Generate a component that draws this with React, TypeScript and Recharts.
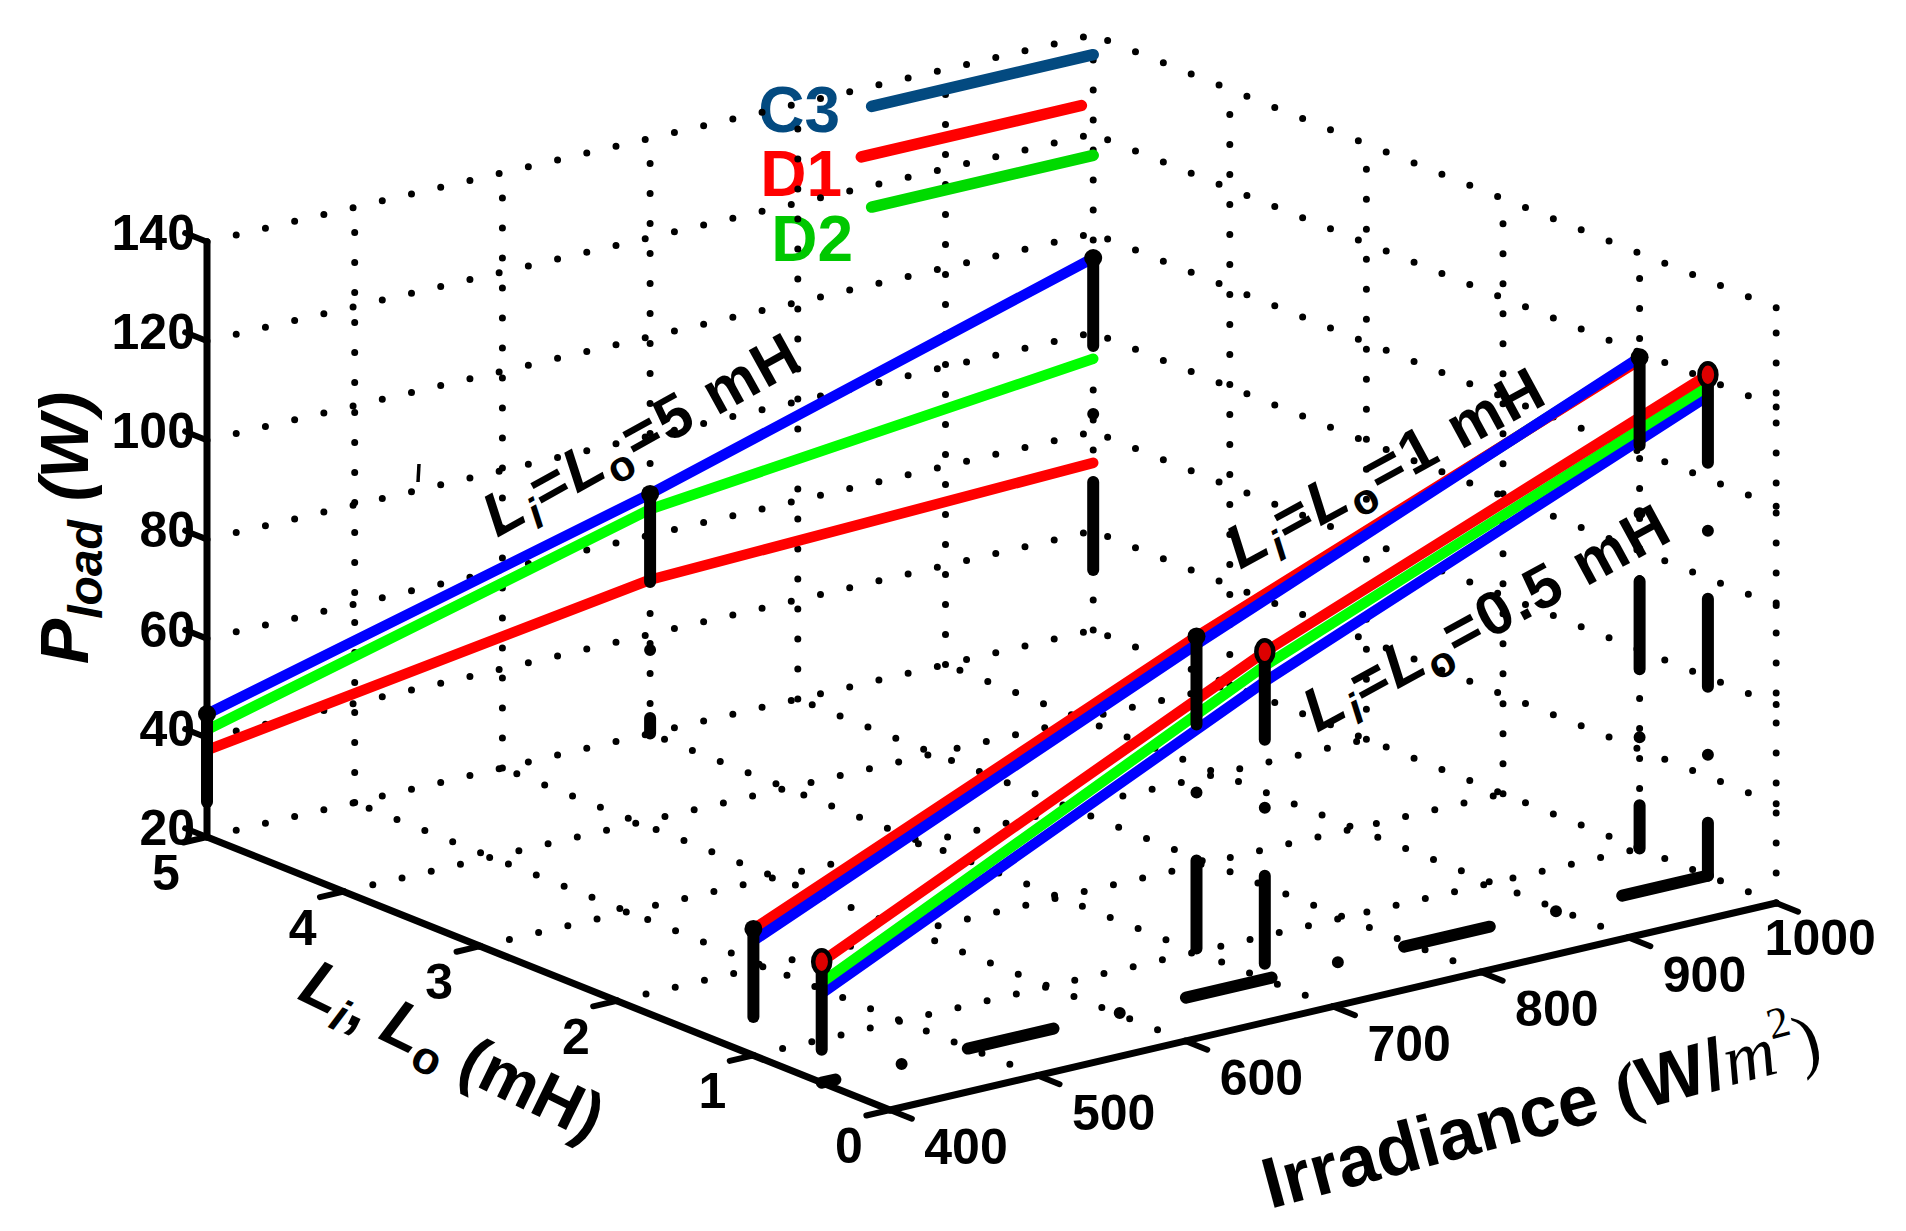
import React from "react";
import { ComposedChart, Line, Scatter, XAxis, YAxis, Customized } from "recharts";

const CHART_W = 1906;
const CHART_H = 1231;

// ---------------- data ----------------
const irradianceTicks = [400, 500, 600, 700, 800, 900, 1000];
const inductanceTicks = [0, 1, 2, 3, 4, 5];
const powerTicks = [20, 40, 60, 80, 100, 120, 140];

const irradiance = [400, 700, 1000];

// L = 5 mH
const c3At5mH = [44.8, 68.3, 95.0];
const d1At5mH = [37.5, 51.0, 53.7];
const d2At5mH = [41.6, 65.2, 74.7];
// L = 1 mH
const c3At1mH = [43.1, 82.0, 119.0];
const d1At1mH = [45.5, 83.6, 118.4];
const d2At1mH = [44.0, 82.8, 118.7];
// L = 0.5 mH
const c3At05mH = [38.0, 80.0, 116.7];
const d1At05mH = [44.4, 86.0, 121.0];
const d2At05mH = [40.2, 83.2, 118.7];

// legend sample lines (drawn in the L = 5 mH wall)
const legendC3Irr = [850, 1000];
const legendD1Irr = [843, 992];
const legendD2Irr = [850, 1000];
const legendC3P = [136, 136];
const legendD1P = [126.3, 126.3];
const legendD2P = [115.7, 115.7];

// ---------------- projection (orthographic 3-D view) ----------------
const ORIGIN_X = 890;
const ORIGIN_Y = 1110;
const IRR_DX = 1.477;
const IRR_DY = -0.345;
const L_DX = -136.6;
const L_DY = -54.6;
const P_DY = -4.96;

type P3 = [number, number, number];
const proj = ([irr, l, p]: P3) => ({
  sx: ORIGIN_X + IRR_DX * (irr - 400) + L_DX * l,
  sy: ORIGIN_Y + IRR_DY * (irr - 400) + L_DY * l + P_DY * (p - 20),
});

const FONT = "'Liberation Sans', Arial, Helvetica, sans-serif";
const SERIF = "'Liberation Serif', 'Times New Roman', serif";

const BLUE = "#0000FF";
const RED = "#FF0000";
const GREEN = "#00FF00";
const LEG_BLUE = "#034A80";
const LEG_GREEN_TEXT = "#00C800";
const LEG_GREEN_LINE = "#00DA00";

const DATA_W = 10.5;

function path(
  key: string,
  pts: P3[],
  stroke: string,
  width: number,
  dash?: string
) {
  return (
    <Line
      key={key}
      data={pts.map(proj)}
      dataKey="sy"
      type="linear"
      stroke={stroke}
      strokeWidth={width}
      strokeDasharray={dash}
      strokeLinecap="round"
      strokeLinejoin="round"
      dot={false}
      activeDot={false}
      legendType="none"
      isAnimationActive={false}
    />
  );
}

// ---------- grid ----------
const GRID_DASH = "0 30";
const GRID_W = 7;
const gridLines: React.ReactNode[] = [];
// wall L = 5
powerTicks
  .filter((p) => p > 20)
  .forEach((p) =>
    gridLines.push(path(`gw5p${p}`, [[400, 5, p], [1000, 5, p]], "#000", GRID_W, GRID_DASH))
  );
irradianceTicks
  .filter((x) => x > 400)
  .forEach((x) =>
    gridLines.push(path(`gw5i${x}`, [[x, 5, 20], [x, 5, 140]], "#000", GRID_W, GRID_DASH))
  );
// wall irradiance = 1000
powerTicks
  .filter((p) => p > 20)
  .forEach((p) =>
    gridLines.push(path(`gwip${p}`, [[1000, 0, p], [1000, 5, p]], "#000", GRID_W, GRID_DASH))
  );
inductanceTicks
  .filter((l) => l < 5)
  .forEach((l) =>
    gridLines.push(path(`gwil${l}`, [[1000, l, 20], [1000, l, 140]], "#000", GRID_W, GRID_DASH))
  );
// floor
irradianceTicks
  .filter((x) => x > 400)
  .forEach((x) =>
    gridLines.push(path(`gfi${x}`, [[x, 0, 20], [x, 5, 20]], "#000", GRID_W, GRID_DASH))
  );
inductanceTicks
  .filter((l) => l > 0)
  .forEach((l) =>
    gridLines.push(path(`gfl${l}`, [[400, l, 20], [1000, l, 20]], "#000", GRID_W, GRID_DASH))
  );

// ---------- axes ----------
const axisLines = [
  path("axP", [[400, 5, 20], [400, 5, 140]], "#000", 7),
  path("axL", [[400, 0, 20], [400, 5, 20]], "#000", 7),
  path("axI", [[400, 0, 20], [1000, 0, 20]], "#000", 7),
  ...powerTicks.map((p) => path(`tkP${p}`, [[400, 5, p], [400, 5.16, p]], "#000", 6)),
  ...inductanceTicks.map((l) => path(`tkL${l}`, [[400, l, 20], [384, l, 20]], "#000", 6)),
  ...irradianceTicks.map((x) => path(`tkI${x}`, [[x, 0, 20], [x, -0.16, 20]], "#000", 6)),
];

// ---------- series ----------
const seriesPts = (l: number, vals: number[]): P3[] =>
  irradiance.map((x, i) => [x, l, vals[i]] as P3);

const dataLines = [
  path("d2L5", seriesPts(5, d2At5mH), GREEN, DATA_W),
  path("d1L5", seriesPts(5, d1At5mH), RED, DATA_W),
  path("c3L5", seriesPts(5, c3At5mH), BLUE, DATA_W),
  path("d2L1", seriesPts(1, d2At1mH), GREEN, DATA_W),
  path("d1L1", seriesPts(1, d1At1mH), RED, DATA_W),
  path("c3L1", seriesPts(1, c3At1mH), BLUE, DATA_W),
  path("c3L05", seriesPts(0.5, c3At05mH), BLUE, DATA_W),
  path("d2L05", seriesPts(0.5, d2At05mH), GREEN, DATA_W),
  path("d1L05", seriesPts(0.5, d1At05mH), RED, DATA_W),
];

const legendLines = [
  path("lgC3", legendC3Irr.map((x, i) => [x, 5, legendC3P[i]] as P3), LEG_BLUE, 11.5),
  path("lgD1", legendD1Irr.map((x, i) => [x, 5, legendD1P[i]] as P3), RED, 11.5),
  path("lgD2", legendD2Irr.map((x, i) => [x, 5, legendD2P[i]] as P3), LEG_GREEN_LINE, 11.5),
];

// ---------- stems ----------
const STEM_DASH = "88 68 0 68";
const STEM_W = 12;
const groups: { l: number; c3: number[]; d1: number[]; d2: number[] }[] = [
  { l: 5, c3: c3At5mH, d1: d1At5mH, d2: d2At5mH },
  { l: 1, c3: c3At1mH, d1: d1At1mH, d2: d2At1mH },
  { l: 0.5, c3: c3At05mH, d1: d1At05mH, d2: d2At05mH },
];
const stemTops = groups.map((g) =>
  irradiance.map((x, i) => [x, g.l, Math.max(g.c3[i], g.d1[i], g.d2[i])] as P3)
);
const stems: React.ReactNode[] = [];
stemTops.forEach((tops, gi) =>
  tops.forEach((t, i) =>
    stems.push(path(`stem${gi}_${i}`, [t, [t[0], t[1], 20]], "#000", STEM_W, STEM_DASH))
  )
);
const floorLine = path("floor05", [[1000, 0.5, 20], [400, 0.5, 20]], "#000", STEM_W, STEM_DASH);

// ---------- markers ----------
const BlackDot = (props: any) => (
  <circle cx={props.cx} cy={props.cy} r={9} fill="#000" />
);
const RedMarker = (props: any) => (
  <ellipse
    cx={props.cx}
    cy={props.cy}
    rx={8.5}
    ry={11.5}
    fill="#DD0000"
    stroke="#000"
    strokeWidth={4.5}
  />
);

// ---------- tick labels ----------
const TICK_FS = 50;
const PTickLabel = (props: any) => (
  <text
    x={props.cx - 12}
    y={props.cy + 8}
    textAnchor="end"
    fontFamily={FONT}
    fontWeight="bold"
    fontSize={TICK_FS}
    fill="#000"
  >
    {props.payload.label}
  </text>
);
const LTickLabel = (props: any) => (
  <text
    x={props.cx - 41}
    y={props.cy + 36 + 17}
    textAnchor="middle"
    fontFamily={FONT}
    fontWeight="bold"
    fontSize={TICK_FS}
    fill="#000"
  >
    {props.payload.label}
  </text>
);
const ITickLabel = (props: any) => {
  const long = String(props.payload.label).length > 3;
  return (
    <text
      x={props.cx + (long ? 44 : 76)}
      y={props.cy + (long ? 35 : 37) + 17}
      textAnchor="middle"
      fontFamily={FONT}
      fontWeight="bold"
      fontSize={TICK_FS}
      fill="#000"
    >
      {props.payload.label}
    </text>
  );
};

const pTickData = powerTicks.map((p) => ({ ...proj([400, 5, p]), label: String(p) }));
const lTickData = inductanceTicks.map((l) => ({ ...proj([400, l, 20]), label: String(l) }));
const iTickData = irradianceTicks.map((x) => ({ ...proj([x, 0, 20]), label: String(x) }));

// ---------- annotations ----------
const LLabel = ({ x, y, rot, value }: { x: number; y: number; rot: number; value: string }) => (
  <text
    x={x}
    y={y}
    transform={`rotate(${rot} ${x} ${y})`}
    fontFamily={FONT}
    fontWeight="bold"
    fontSize={61}
    letterSpacing={2}
    fill="#000"
  >
    <tspan fontStyle="italic">L</tspan>
    <tspan fontStyle="italic" fontSize={43} dy={12}>
      i
    </tspan>
    <tspan dy={-12}>=</tspan>
    <tspan fontStyle="italic">L</tspan>
    <tspan fontSize={43} dy={12}>
      o
    </tspan>
    <tspan dy={-12}>{`=${value} mH`}</tspan>
  </text>
);

const Annotations = () => (
  <g>
    {/* P axis label */}
    <text
      x={88}
      y={528}
      transform="rotate(-90 88 528)"
      textAnchor="middle"
      fontFamily={FONT}
      fontWeight="bold"
      fontStyle="italic"
      fontSize={68}
      fill="#000"
    >
      P
      <tspan fontSize={48} dy={14}>
        load
      </tspan>
      <tspan dy={-14}> (W)</tspan>
    </text>

    {/* L axis label */}
    <text
      x={443}
      y={1070}
      transform="rotate(26 443 1070)"
      textAnchor="middle"
      fontFamily={FONT}
      fontWeight="bold"
      fontSize={66}
      fill="#000"
    >
      <tspan fontStyle="italic">L</tspan>
      <tspan fontStyle="italic" fontSize={46} dy={12}>
        i
      </tspan>
      <tspan dy={-12}>, </tspan>
      <tspan fontStyle="italic">L</tspan>
      <tspan fontSize={46} dy={12}>
        o
      </tspan>
      <tspan dy={-12}> (mH)</tspan>
    </text>

    {/* Irradiance label */}
    <text
      x={1270}
      y={1209}
      transform="rotate(-15 1270 1209)"
      fontFamily={FONT}
      fontWeight="bold"
      fontSize={72}
      fill="#000"
    >
      Irradiance{" "}
      <tspan fontFamily={SERIF}>(</tspan>
      <tspan>W/</tspan>
      <tspan fontFamily={SERIF} fontStyle="italic" fontWeight="normal">
        m
      </tspan>
      <tspan fontFamily={SERIF} fontWeight="normal" fontSize={44} dy={-34}>
        2
      </tspan>
      <tspan fontFamily={SERIF} fontWeight="normal" dy={34}>
        )
      </tspan>
    </text>

    {/* legend labels */}
    <text x={840} y={132} textAnchor="end" fontFamily={FONT} fontWeight="bold" fontSize={64} fill={LEG_BLUE}>
      C3
    </text>
    <text x={842} y={196} textAnchor="end" fontFamily={FONT} fontWeight="bold" fontSize={64} fill={RED}>
      D1
    </text>
    <text x={853} y={261} textAnchor="end" fontFamily={FONT} fontWeight="bold" fontSize={64} fill={LEG_GREEN_TEXT}>
      D2
    </text>

    {/* inductance annotations */}
    <LLabel x={497} y={538} rot={-29} value="5" />
    <LLabel x={1240} y={570} rot={-28.5} value="1" />
    <LLabel x={1317} y={733} rot={-28.5} value="0.5" />

    {/* small stray mark */}
    <line x1={419} y1={464} x2={418} y2={482} stroke="#000" strokeWidth={3.5} />
  </g>
);

export default function App() {
  return (
    <div
      style={{
        position: "absolute",
        left: 0,
        top: 0,
        width: CHART_W,
        height: CHART_H,
        background: "#fff",
      }}
    >
      <ComposedChart
        width={CHART_W}
        height={CHART_H}
        margin={{ top: 0, right: 0, bottom: 0, left: 0 }}
      >
        <XAxis type="number" dataKey="sx" domain={[0, CHART_W]} allowDataOverflow hide />
        <YAxis type="number" dataKey="sy" domain={[0, CHART_H]} allowDataOverflow reversed hide />
        {gridLines}
        {axisLines}
        {dataLines}
        {legendLines}
        {floorLine}
        {stems}
        <Scatter data={stemTops[0].map(proj)} dataKey="sy" shape={BlackDot} isAnimationActive={false} />
        <Scatter data={stemTops[1].map(proj)} dataKey="sy" shape={BlackDot} isAnimationActive={false} />
        <Scatter data={stemTops[2].map(proj)} dataKey="sy" shape={RedMarker} isAnimationActive={false} />
        <Scatter data={pTickData} dataKey="sy" shape={PTickLabel} isAnimationActive={false} />
        <Scatter data={lTickData} dataKey="sy" shape={LTickLabel} isAnimationActive={false} />
        <Scatter data={iTickData} dataKey="sy" shape={ITickLabel} isAnimationActive={false} />
        <Customized component={<Annotations />} />
      </ComposedChart>
    </div>
  );
}
